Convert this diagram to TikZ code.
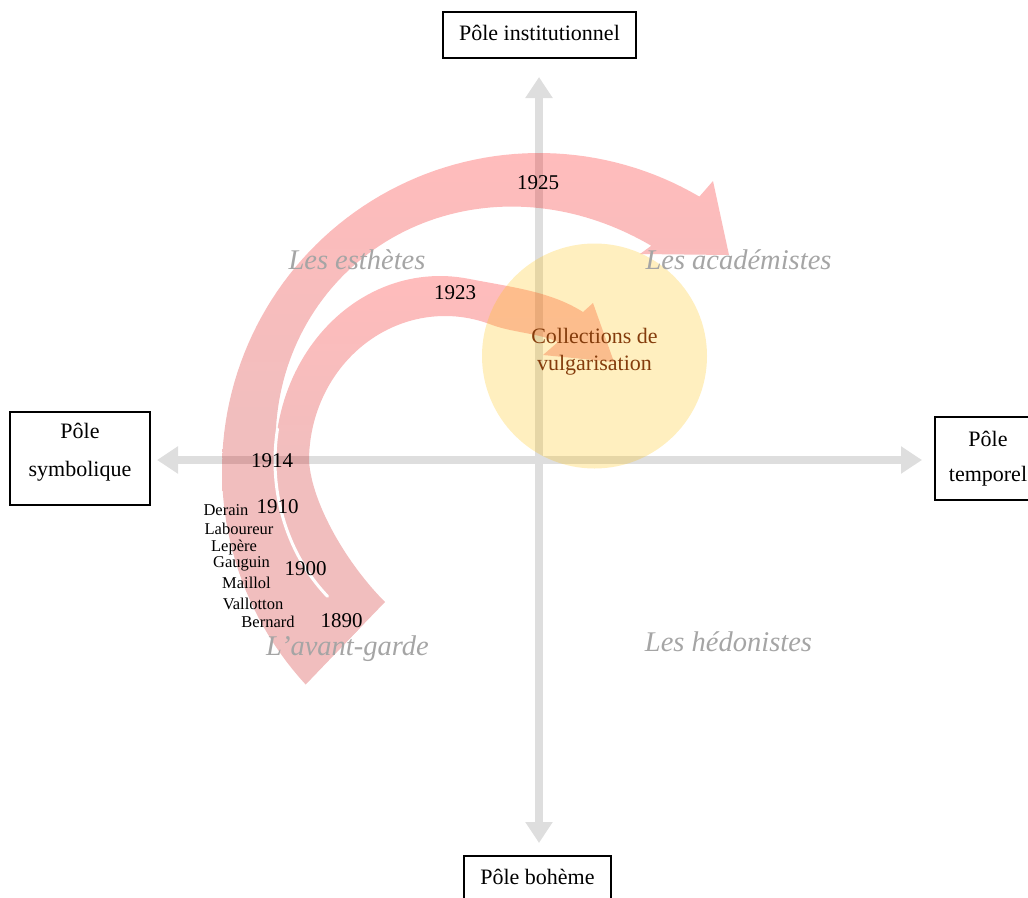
\documentclass[tikz,border=0pt]{standalone}
\usepackage{fontspec}
\setmainfont{Liberation Serif}
\usetikzlibrary{arrows.meta}
\definecolor{axisgray}{RGB}{222,222,222}
\definecolor{pinkT}{RGB}{255,7,7}
\definecolor{pinkB}{RGB}{203,14,14}
\definecolor{gold}{RGB}{255,192,0}
\definecolor{quadgray}{RGB}{165,165,165}
\definecolor{brownish}{RGB}{132,60,12}
\begin{document}
\begin{tikzpicture}[x=1pt, y=-1pt,
  axisline/.style={draw=axisgray, line width=8pt, {Triangle[width=26pt,length=21pt]}-{Triangle[width=26pt,length=21pt]}},
  polebox/.style={draw=black, line width=1.2pt, inner sep=0pt, align=center},
  quadlabel/.style={text=quadgray, font=\fontsize{28.5}{30}\selectfont\itshape, inner sep=0pt, anchor=base},
  yearlabel/.style={font=\fontsize{21}{24}\selectfont, inner sep=0pt, anchor=base},
  artistlabel/.style={font=\fontsize{16.5}{18}\selectfont, inner sep=0pt, anchor=base},
  band/.style={top color=pinkT, bottom color=pinkB, middle color=pinkB}
]
\useasboundingbox (0,0) rectangle (1028,897);

% axes
\coordinate (axL) at (157,460);
\coordinate (axR) at (922,460);
\coordinate (axT) at (539,77);
\coordinate (axB) at (539,843);
\draw[axisline] (axL) -- (axR);
\draw[axisline] (axT) -- (axB);

% pink curved arrows
\begin{scope}[transparency group, opacity=0.27]
  % 1925 (outer)
  \shade[band] plot[domain=0:163, samples=90, variable=\t] ({539+317*cos(222.6-\t)}, {470-317*sin(222.6-\t)})
    -- (713,181) -- (729,255) -- (640,254) -- (651.3,245.7)
    -- plot[domain=63.4:180, samples=80, variable=\t] ({539+(262+14*sin(2*(\t-90)))*cos(\t)}, {470-(262+14*sin(2*(\t-90)))*sin(\t)})
    -- plot[domain=183:228, samples=30, variable=\t] ({445+165*cos(\t)}, {461-185*sin(\t)})
    -- (360,627.9) -- cycle;
  % 1923 (inner)
  \shade[band] (385,602) .. controls (348,565) and (312,505) .. (309,461)
    -- plot[domain=0:110, samples=70, variable=\t] ({445+136*cos(180-\t)}, {461-145*sin(180-\t)})
    .. controls (512.4,332.6) and (538,333) .. (558,342)
    -- (543,355) -- (614,362) -- (593,303) -- (583,312)
    .. controls (550,291) and (510,287) .. (468.7,278.8)
    -- plot[domain=80:228, samples=80, variable=\t] ({440+165*cos(\t)}, {461-185*sin(\t)})
    -- (335,653.8) -- cycle;
  % white gap between the two bands
  \draw[white, line width=3pt, line cap=round] plot[domain=170:227, samples=40, variable=\t] ({440+165*cos(\t)}, {461-185*sin(\t)});
\end{scope}

% circle
\node[circle, minimum size=225pt, inner sep=0pt, fill=gold, fill opacity=0.25, text opacity=1, text=brownish, align=center, font=\fontsize{22}{26.4}\selectfont] (vulg) at (594.5,356) {Collections de\\vulgarisation\rule[-13pt]{0pt}{13pt}};

% quadrant labels
\node[quadlabel] (esth) at (357,269) {Les esthètes};
\node[quadlabel] (acad) at (738.5,269) {Les académistes};
\node[quadlabel] (avant) at (347.5,655) {L’avant-garde};
\node[quadlabel] (hedo) at (728.5,651) {Les hédonistes};

% years
\node[yearlabel] (y1925) at (538,189) {1925};
\node[yearlabel] (y1923) at (455,299) {1923};
\node[yearlabel] (y1914) at (272,467) {1914};
\node[yearlabel] (y1910) at (277.5,513) {1910};
\node[yearlabel] (y1900) at (305.5,575) {1900};
\node[yearlabel] (y1890) at (341.5,627) {1890};

% artists
\node[artistlabel] (derain) at (226,515.5) {Derain};
\node[artistlabel] (laboureur) at (239,534) {Laboureur};
\node[artistlabel] (lepere) at (234,551.7) {Lepère};
\node[artistlabel] (gauguin) at (241.5,567.7) {Gauguin};
\node[artistlabel] (maillol) at (246.5,588.3) {Maillol};
\node[artistlabel] (vallotton) at (253,609) {Vallotton};
\node[artistlabel] (bernard) at (268,627.3) {Bernard};

% pole boxes
\node[polebox, minimum width=193pt, minimum height=46pt, font=\fontsize{22}{26}\selectfont, text height=16pt, text depth=6pt] (pinst) at (539.5,35) {Pôle institutionnel};
\node[polebox, minimum width=147pt, minimum height=46pt, font=\fontsize{22}{26}\selectfont, text height=16pt, text depth=6pt] (pboh) at (537.5,879) {Pôle bohème};
\node[polebox, minimum width=140pt, minimum height=93pt, font=\fontsize{22}{38}\selectfont] (psym) at (80,458.5) {Pôle\\symbolique\rule[-18pt]{0pt}{18pt}};
\node[polebox, minimum width=106pt, minimum height=83pt, font=\fontsize{22}{35}\selectfont] (ptemp) at (988,458.5) {Pôle\\temporel};
\end{tikzpicture}
\end{document}
